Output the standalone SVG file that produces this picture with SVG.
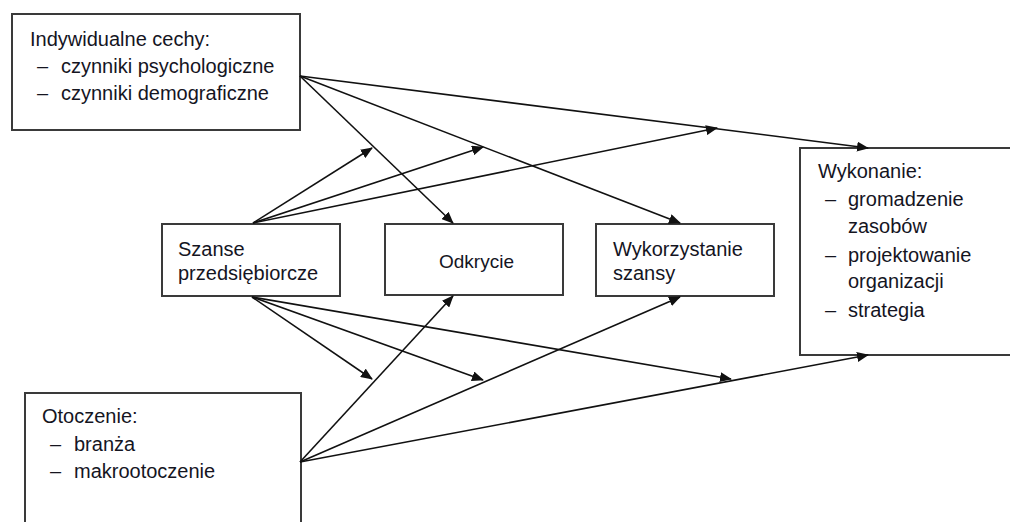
<svg xmlns="http://www.w3.org/2000/svg" width="1010" height="522" viewBox="0 0 1010 522">
<style>
.box{fill:#fff;stroke:#3a3a3a;stroke-width:2}
.t{font-family:"Liberation Sans",Arial,sans-serif;font-size:20px;fill:#15151f}
.c line{stroke:#111;stroke-width:1.6;marker-end:url(#ah)}
</style>
<defs>
<marker id="ah" markerUnits="userSpaceOnUse" markerWidth="12" markerHeight="10" refX="11" refY="5" orient="auto">
<path d="M0,0 L12,5 L0,10 z" fill="#111"/>
</marker>
</defs>
<rect width="1010" height="522" fill="#fff"/>
<g id="indywidualne">
<rect class="box" x="12" y="14" width="288" height="116"/>
<text class="t" x="30" y="46">Indywidualne cechy:</text>
<text class="t" x="37" y="73">–</text><text class="t" x="61" y="73">czynniki psychologiczne</text>
<text class="t" x="37" y="100">–</text><text class="t" x="61" y="100">czynniki demograficzne</text>
</g>
<g id="szanse">
<rect class="box" x="162" y="224" width="178" height="72"/>
<text class="t" x="178" y="256">Szanse</text>
<text class="t" x="178" y="280">przedsiębiorcze</text>
</g>
<g id="odkrycie">
<rect class="box" x="385" y="224" width="178" height="71"/>
<text class="t" x="439" y="268" style="font-size:19px">Odkrycie</text>
</g>
<g id="wykorzystanie">
<rect class="box" x="596" y="224" width="178" height="72"/>
<text class="t" x="613" y="256">Wykorzystanie</text>
<text class="t" x="613" y="280">szansy</text>
</g>
<g id="wykonanie">
<rect class="box" x="800" y="148" width="260" height="207"/>
<text class="t" x="818" y="178">Wykonanie:</text>
<text class="t" x="825" y="206">–</text><text class="t" x="848" y="206">gromadzenie</text>
<text class="t" x="848" y="233">zasobów</text>
<text class="t" x="825" y="262">–</text><text class="t" x="848" y="262">projektowanie</text>
<text class="t" x="848" y="288">organizacji</text>
<text class="t" x="825" y="317">–</text><text class="t" x="848" y="317">strategia</text>
</g>
<g id="otoczenie">
<rect class="box" x="25" y="393" width="276" height="200"/>
<text class="t" x="42" y="423">Otoczenie:</text>
<text class="t" x="50" y="451">–</text><text class="t" x="74" y="451">branża</text>
<text class="t" x="50" y="478">–</text><text class="t" x="74" y="478">makrootoczenie</text>
</g>
<g id="connectors" class="c">
<line x1="300" y1="76" x2="868" y2="148"/>
<line x1="300" y1="76" x2="453" y2="223"/>
<line x1="300" y1="76" x2="680" y2="223"/>
<line x1="253" y1="223" x2="372" y2="148"/>
<line x1="253" y1="223" x2="483" y2="147"/>
<line x1="253" y1="223" x2="717" y2="128"/>
<line x1="252" y1="297" x2="372" y2="379"/>
<line x1="252" y1="297" x2="483" y2="380"/>
<line x1="252" y1="297" x2="731" y2="379"/>
<line x1="300" y1="462" x2="453" y2="296"/>
<line x1="300" y1="462" x2="680" y2="297"/>
<line x1="300" y1="462" x2="868" y2="355"/>
</g>
</svg>
